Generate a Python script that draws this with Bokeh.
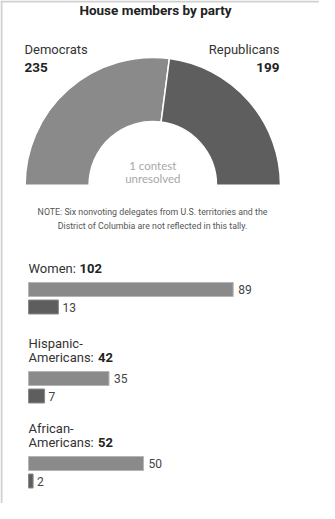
import math
from bokeh.plotting import figure
from bokeh.models import ColumnDataSource, Range1d, Span
from bokeh.core.properties import value
from bokeh.embed import file_html
from bokeh.resources import INLINE

# ---- data ----
parties = ["Democrats", "Republicans"]
seats = [235, 199]
unresolved_text = ["1 contest", "unresolved"]
note_lines = ["NOTE: Six nonvoting delegates from U.S. territories and the",
              "District of Columbia are not reflected in this tally."]
groups = ["Women", "Hispanic-Americans", "African-Americans"]
group_totals = [102, 42, 52]
group_dem = [89, 35, 50]
group_rep = [13, 7, 2]

# ---- layout ----
W, H = 319, 503
PX = 2.3          # pixels per seat
ORIGIN = 28       # bar origin in pixels
DEM_COLOR = "#8a8a8a"
REP_COLOR = "#5e5e5e"
FONT = value("Roboto")

p = figure(width=W, height=H, output_backend="svg", toolbar_location=None,
           x_range=Range1d(0, W), y_range=Range1d(0, H), min_border=0,
           background_fill_color="white", border_fill_color="white")
p.axis.visible = False
p.grid.visible = False
p.outline_line_color = None
p.extra_x_ranges = {"seats": Range1d(-ORIGIN / PX, (W - ORIGIN) / PX)}

# frame lines
p.add_layout(Span(location=1, dimension="height", line_color="#d0d0d0", line_width=2))
p.add_layout(Span(location=H - 1, dimension="width", line_color="#d0d0d0", line_width=2))

# title
p.text(x=[155], y=[494], text=["House members by party"], text_font=FONT,
       text_font_style="bold", text_font_size="13.5px", text_align="center",
       text_baseline="middle", text_color="#222222")

# donut
total = sum(seats)
starts, ends = [], []
cum = 0
for s in seats:
    ends.append(math.pi - math.pi * cum / total)
    starts.append(math.pi - math.pi * (cum + s) / total)
    cum += s
cx, cy = 152.3, 318.3
src = ColumnDataSource(dict(x=[cx] * len(seats), y=[cy] * len(seats),
                            start=starts, end=ends, color=[DEM_COLOR, REP_COLOR]))
p.annular_wedge(x="x", y="y", inner_radius=63.7, outer_radius=127.7,
                start_angle="start", end_angle="end", fill_color="color",
                line_color="white", line_width=1.5, source=src)

# party labels
p.text(x=[24], y=[454], text=[parties[0]], text_font=FONT, text_font_size="13px",
       text_align="left", text_baseline="middle", text_color="#333333")
p.text(x=[279], y=[454], text=[parties[1]], text_font=FONT, text_font_size="13px",
       text_align="right", text_baseline="middle", text_color="#333333")
p.text(x=[24], y=[436], text=[str(seats[0])], text_font=FONT, text_font_size="13.5px",
       text_font_style="bold", text_align="left", text_baseline="middle", text_color="#222222")
p.text(x=[279], y=[436], text=[str(seats[1])], text_font=FONT, text_font_size="13.5px",
       text_font_style="bold", text_align="right", text_baseline="middle", text_color="#222222")

# unresolved
p.text(x=[cx, cx], y=[338, 325], text=unresolved_text, text_font=value("Lato"),
       text_font_size="11.5px", text_align="center", text_baseline="middle",
       text_color="#a8a8a8")

# note
p.text(x=[152, 152], y=[292, 277.5], text=note_lines, text_font=FONT,
       text_font_size="8.8px", text_align="center", text_baseline="middle",
       text_color="#555555")

# groups
last_line_y = [235, 146, 61]
bold_x = [79, 97.5, 97.5]
for i, g in enumerate(groups):
    parts = g.split("-")
    lines = [pp + "-" for pp in parts[:-1]] + [parts[-1] + ":"]
    ys = [last_line_y[i] + 14.5 * (len(lines) - 1 - k) for k in range(len(lines))]
    p.text(x=[ORIGIN] * len(lines), y=ys, text=lines, text_font=FONT,
           text_font_size="13px", text_align="left", text_baseline="middle",
           text_color="#333333")
    p.text(x=[bold_x[i]], y=[last_line_y[i]], text=[str(group_totals[i])], text_font=FONT,
           text_font_size="13px", text_font_style="bold", text_align="left",
           text_baseline="middle", text_color="#222222")

dem_y = [y - 21 for y in last_line_y]
rep_y = [y - 17.5 for y in dem_y]
bsrc = ColumnDataSource(dict(dem=group_dem, rep=group_rep, dy=dem_y, ry=rep_y,
                             dl=[str(v) for v in group_dem], rl=[str(v) for v in group_rep]))
p.hbar(y="dy", left=0, right="dem", height=14, x_range_name="seats", source=bsrc,
       fill_color=DEM_COLOR, line_color="#b5b5b5", line_width=1)
p.hbar(y="ry", left=0, right="rep", height=14, x_range_name="seats", source=bsrc,
       fill_color=REP_COLOR, line_color="#8a8a8a", line_width=1)
p.text(x="dem", y="dy", text="dl", x_range_name="seats", source=bsrc, x_offset=5,
       text_font=FONT, text_font_size="12px", text_baseline="middle", text_color="#444444")
p.text(x="rep", y="ry", text="rl", x_range_name="seats", source=bsrc, x_offset=4,
       text_font=FONT, text_font_size="12px", text_baseline="middle", text_color="#444444")

open("out.html", "w").write(file_html(p, INLINE))
